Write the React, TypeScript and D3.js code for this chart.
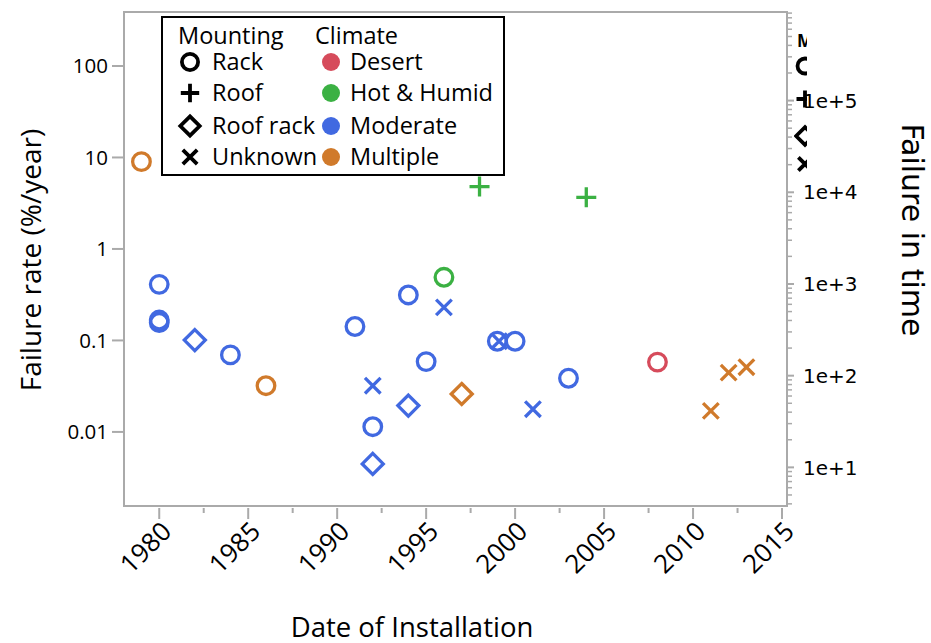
import React from "react";
import * as d3 from "d3";

const years = [1979, 1980, 1980, 1980, 1982, 1984, 1986, 1991, 1992, 1992, 1992, 1994, 1994, 1995, 1996, 1996, 1997, 1998, 1999, 1999.1, 2000, 2001, 2003, 2004, 2008, 2011, 2012, 2013];
const rates = [9, 0.41, 0.157, 0.167, 0.101, 0.0695, 0.032, 0.142, 0.032, 0.0114, 0.00447, 0.314, 0.0194, 0.0587, 0.49, 0.23, 0.026, 4.8, 0.098, 0.098, 0.098, 0.0177, 0.0386, 3.67, 0.058, 0.017, 0.0445, 0.051];
const mounting = ["Rack", "Rack", "Rack", "Rack", "Roof rack", "Rack", "Rack", "Rack", "Unknown", "Rack", "Roof rack", "Rack", "Roof rack", "Rack", "Rack", "Unknown", "Roof rack", "Roof", "Rack", "Unknown", "Rack", "Unknown", "Rack", "Roof", "Rack", "Unknown", "Unknown", "Unknown"];
const climate = ["Multiple", "Moderate", "Moderate", "Moderate", "Moderate", "Moderate", "Multiple", "Moderate", "Moderate", "Moderate", "Moderate", "Moderate", "Moderate", "Moderate", "Hot & Humid", "Moderate", "Multiple", "Hot & Humid", "Moderate", "Moderate", "Moderate", "Moderate", "Moderate", "Hot & Humid", "Desert", "Multiple", "Multiple", "Multiple"];

const mountingTypes = ["Rack", "Roof", "Roof rack", "Unknown"];
const climateTypes = ["Desert", "Hot & Humid", "Moderate", "Multiple"];
const climateColors = ["#D64B5B", "#3BB143", "#4169E1", "#D07A2B"];

const xTicks = [1980, 1985, 1990, 1995, 2000, 2005, 2010, 2015];
const xMinorTicks = [1982.5, 1987.5, 1992.5, 1997.5, 2002.5, 2007.5, 2012.5];
const leftTicks = [0.01, 0.1, 1, 10, 100];
const leftTickLabels = ["0.01", "0.1", "1", "10", "100"];
const rightTicks = [10, 100, 1000, 10000, 100000];
const rightTickLabels = ["1e+1", "1e+2", "1e+3", "1e+4", "1e+5"];

const FONT = "'Open Sans', 'Noto Sans', sans-serif";
const DEJAVU = "'DejaVu Sans', sans-serif";

function symbolPath(kind: string, s: number): string {
  if (kind === "Roof") return `M${-s},0H${s}M0,${-s}V${s}`;
  if (kind === "Roof rack") return `M0,${-s}L${s},0L0,${s}L${-s},0Z`;
  if (kind === "Unknown") return `M${-s},${-s}L${s},${s}M${-s},${s}L${s},${-s}`;
  return "";
}

function Marker({ kind, x, y, color, sw, scale = 1 }: any) {
  if (kind === "Rack") return <circle cx={x} cy={y} r={8.8 * scale} fill="none" stroke={color} strokeWidth={sw} />;
  const s = kind === "Roof" ? 10 * scale : kind === "Roof rack" ? 10.5 * scale : 7.8 * scale;
  return <path transform={`translate(${x},${y})`} d={symbolPath(kind, s)} fill="none" stroke={color} strokeWidth={sw} />;
}

export default function App() {
  const L = 124, R = 787, T = 12, B = 506;
  const x = d3.scaleLinear().domain([1978.02, 2015.28]).range([L, R]);
  const y = d3.scaleLog().domain([0.00155, 389]).range([B, T]);
  const y2 = d3.scaleLog().domain([3.79, 925000]).range([B, T]);
  const color = d3.scaleOrdinal<string, string>().domain(climateTypes).range(climateColors);

  const rightMinor: number[] = [];
  [1, 10, 100, 1000, 10000, 100000].forEach((d) => {
    for (let k = 2; k <= 9; k++) {
      const v = d * k;
      if (v > 3.79 && v < 925000) rightMinor.push(v);
    }
  });

  const axisColor = "#AAAAAA";
  const legendRows = [62, 93, 126, 157];

  return (
    <svg width={931} height={643} style={{ position: "absolute", left: 0, top: 0, background: "#fff" }}>
      <defs>
        <clipPath id="dupclip">
          <rect x={794} y={30} width={13} height={150} />
        </clipPath>
      </defs>
      {/* frame */}
      <rect x={L} y={T} width={R - L} height={B - T} fill="none" stroke={axisColor} strokeWidth={2} />

      {/* x axis ticks */}
      {xTicks.map((t) => (
        <g key={t}>
          <line x1={x(t)} x2={x(t)} y1={B + 2} y2={B + 13} stroke={axisColor} strokeWidth={2} />
          <text
            transform={`translate(${x(t) + 1},${B + 14}) rotate(-45)`}
            textAnchor="end"
            dy="0.7em"
            fontFamily={FONT}
            fontSize={26}
            fill="#000"
          >
            {t}
          </text>
        </g>
      ))}
      {xMinorTicks.map((t) => (
        <line key={t} x1={x(t)} x2={x(t)} y1={B + 2} y2={B + 7} stroke={axisColor} strokeWidth={2} />
      ))}

      {/* left axis */}
      {leftTicks.map((t, i) => (
        <g key={t}>
          <line x1={L - 12} x2={L} y1={y(t)} y2={y(t)} stroke={axisColor} strokeWidth={2} />
          <text x={L - 16} y={y(t)} dy="0.35em" textAnchor="end" fontFamily={FONT} fontSize={20.5} fill="#000">
            {leftTickLabels[i]}
          </text>
        </g>
      ))}

      {/* right axis */}
      {rightMinor.map((t) => (
        <line key={t} x1={R} x2={R + 5} y1={y2(t)} y2={y2(t)} stroke={axisColor} strokeWidth={1.5} />
      ))}
      {rightTicks.map((t, i) => (
        <g key={t}>
          <line x1={R} x2={R + 7} y1={y2(t)} y2={y2(t)} stroke={axisColor} strokeWidth={2} />
          <text x={R + 16} y={y2(t)} dy="0.36em" fontFamily={DEJAVU} fontSize={20} fill="#000">
            {rightTickLabels[i]}
          </text>
        </g>
      ))}

      {/* axis titles */}
      <text x={412} y={637} textAnchor="middle" fontFamily={FONT} fontSize={27.5} fill="#000">
        Date of Installation
      </text>
      <text transform="translate(41,260) rotate(-90)" textAnchor="middle" fontFamily={FONT} fontSize={28} fill="#000">
        Failure rate (%/year)
      </text>
      <text transform="translate(902,230) rotate(90)" textAnchor="middle" fontFamily={DEJAVU} fontSize={30} fill="#000">
        Failure in time
      </text>

      {/* data points */}
      {years.map((yr, i) => (
        <Marker key={i} kind={mounting[i]} x={x(yr)} y={y(rates[i])} color={color(climate[i])} sw={3.3} />
      ))}

      {/* duplicated clipped legend at right axis */}
      <g clipPath="url(#dupclip)">
        <text x={797} y={47} fontFamily={FONT} fontSize={17} fontWeight="bold" fill="#000">
          Mounting
        </text>
        {mountingTypes.map((m, i) => (
          <Marker key={m} kind={m} x={805} y={[66, 99, 136, 164][i]} color="#000" sw={3.8} scale={0.85} />
        ))}
      </g>

      {/* legend */}
      <rect x={162} y={17} width={342} height={158} fill="#fff" stroke="#000" strokeWidth={2} />
      <text x={178} y={44} fontFamily={FONT} fontSize={23.5} fill="#000">Mounting</text>
      <text x={315} y={44} fontFamily={FONT} fontSize={23.5} fill="#000">Climate</text>
      {mountingTypes.map((m, i) => (
        <g key={m}>
          <Marker kind={m} x={190} y={legendRows[i]} color="#000" sw={3.8} scale={0.92} />
          <text x={212} y={legendRows[i]} dy="0.36em" fontFamily={FONT} fontSize={23.5} fill="#000">
            {m}
          </text>
        </g>
      ))}
      {climateTypes.map((c, i) => (
        <g key={c}>
          <circle cx={331} cy={legendRows[i]} r={9} fill={color(c)} />
          <text x={350} y={legendRows[i]} dy="0.36em" fontFamily={FONT} fontSize={23.5} fill="#000">
            {c}
          </text>
        </g>
      ))}
    </svg>
  );
}
